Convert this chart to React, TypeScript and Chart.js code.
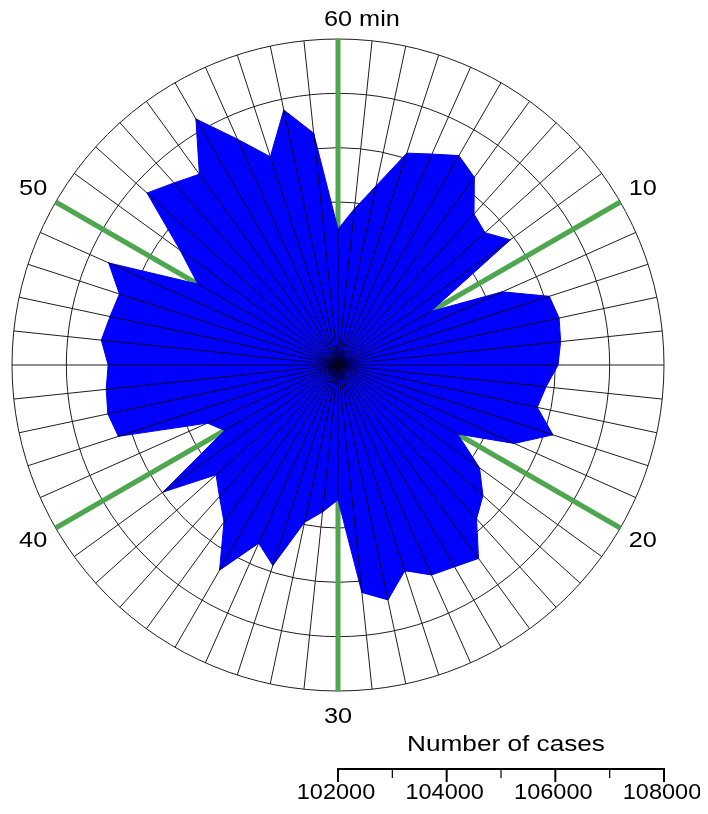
import React, { useEffect, useRef } from "react";
import { Chart, registerables } from "chart.js";

Chart.register(...registerables);

// Minute categories (spoke 0 at top = 60 min, clockwise)
const minuteLabels = [
  "60", "1", "2", "3", "4", "5", "6", "7", "8", "9",
  "10", "11", "12", "13", "14", "15", "16", "17", "18", "19",
  "20", "21", "22", "23", "24", "25", "26", "27", "28", "29",
  "30", "31", "32", "33", "34", "35", "36", "37", "38", "39",
  "40", "41", "42", "43", "44", "45", "46", "47", "48", "49",
  "50", "51", "52", "53", "54", "55", "56", "57", "58", "59",
];

// Number of cases per minute
const caseCounts = [
  104500, 104890, 105370, 106100, 106250, 106450, 106270, 105740, 105640, 105920,
  103970, 105310, 106090, 106160, 106120, 106050, 105850, 105750, 106160, 105550,
  104540, 105220, 105590, 105810, 106400, 106290, 106230, 105980, 106420, 106210,
  104480, 104720, 104960, 105880, 105590, 106360, 105570, 105260, 105020, 105980,
  104410, 104630, 106250, 106330, 106290, 106230, 106380, 106290, 106230, 106620,
  104980, 105590, 106730, 106510, 106340, 107230, 106550, 106030, 106800, 106290,
];

const radialMin = 102000;
const radialMax = 108000;
const radialStep = 1000;

// Highlighted spokes and their labels
const markIndices = [0, 10, 20, 30, 40, 50];
const markTexts = ["60 min", "10", "20", "30", "40", "50"];

// Scale bar
const barTitle = "Number of cases";
const barMajorTicks = [102000, 104000, 106000, 108000];
const barMinorTicks = [103000, 105000, 107000];

const FONT = "'Liberation Sans', Arial, Helvetica, sans-serif";

function drawStretched(
  ctx: CanvasRenderingContext2D,
  text: string,
  x: number,
  y: number,
  sx: number,
  align: CanvasTextAlign,
  size: number
) {
  ctx.save();
  ctx.font = `${size}px ${FONT}`;
  ctx.translate(x, y);
  ctx.scale(sx, 1);
  ctx.textAlign = align;
  ctx.textBaseline = "middle";
  ctx.fillStyle = "#000";
  ctx.fillText(text, 0, 0);
  ctx.restore();
}

const overlayPlugin = {
  id: "overlayPlugin",
  beforeDatasetsDraw(chart: any) {
    const scale = chart.scales.r;
    const ctx: CanvasRenderingContext2D = chart.ctx;
    ctx.save();
    ctx.strokeStyle = "#4ea64e";
    ctx.lineWidth = 5;
    ctx.lineCap = "butt";
    markIndices.forEach((i) => {
      const a = scale.getPointPositionForValue(i, radialMin);
      const b = scale.getPointPositionForValue(i, radialMax);
      ctx.beginPath();
      ctx.moveTo(a.x, a.y);
      ctx.lineTo(b.x, b.y);
      ctx.stroke();
    });
    ctx.restore();
  },
  afterDatasetsDraw(chart: any) {
    const scale = chart.scales.r;
    const ctx: CanvasRenderingContext2D = chart.ctx;
    const data = chart.data.datasets[0].data as number[];
    ctx.save();
    ctx.strokeStyle = "rgba(0,0,30,0.95)";
    ctx.lineWidth = 1;
    data.forEach((v, i) => {
      const p = scale.getPointPositionForValue(i, v);
      ctx.beginPath();
      ctx.moveTo(scale.xCenter, scale.yCenter);
      ctx.lineTo(p.x, p.y);
      ctx.stroke();
    });
    ctx.restore();
  },
  afterDraw(chart: any) {
    const scale = chart.scales.r;
    const ctx: CanvasRenderingContext2D = chart.ctx;
    const outer = scale.getDistanceFromCenterForValue(radialMax);

    // Angular labels
    markIndices.forEach((idx, k) => {
      const text = markTexts[k];
      const dist = idx === 0 ? outer + 19 : outer + 26;
      const p = scale.getPointPosition(idx, dist);
      if (idx === 0) {
        ctx.save();
        ctx.font = `22px ${FONT}`;
        const w = ctx.measureText("60").width * 1.15;
        ctx.restore();
        drawStretched(ctx, text, p.x - w / 2, p.y, 1.15, "left", 22);
      } else {
        drawStretched(ctx, text, p.x, p.y, 1.15, "center", 22);
      }
    });

    // Scale bar
    const cx = scale.xCenter;
    const cy = scale.yCenter;
    const lineY = cy + 404;
    const x0 = cx + scale.getDistanceFromCenterForValue(barMajorTicks[0]);
    const x1 = cx + scale.getDistanceFromCenterForValue(barMajorTicks[barMajorTicks.length - 1]);
    ctx.save();
    ctx.strokeStyle = "#000";
    ctx.lineWidth = 2;
    ctx.beginPath();
    ctx.moveTo(x0, lineY);
    ctx.lineTo(x1, lineY);
    ctx.stroke();
    barMajorTicks.forEach((v) => {
      const x = cx + scale.getDistanceFromCenterForValue(v);
      ctx.beginPath();
      ctx.moveTo(x, lineY - 1);
      ctx.lineTo(x, lineY + 13);
      ctx.stroke();
    });
    ctx.lineWidth = 1.2;
    barMinorTicks.forEach((v) => {
      const x = cx + scale.getDistanceFromCenterForValue(v);
      ctx.beginPath();
      ctx.moveTo(x, lineY);
      ctx.lineTo(x, lineY + 9);
      ctx.stroke();
    });
    ctx.restore();
    barMajorTicks.forEach((v) => {
      const x = cx + scale.getDistanceFromCenterForValue(v) - 2;
      drawStretched(ctx, String(v), x, cy + 428, 1.07, "center", 22);
    });
    drawStretched(ctx, barTitle, (x0 + x1) / 2 + 5, cy + 380, 1.19, "center", 22);
  },
};

export default function App() {
  const canvasRef = useRef<HTMLCanvasElement | null>(null);

  useEffect(() => {
    const canvas = canvasRef.current;
    if (!canvas) return;
    const chart = new Chart(canvas, {
      type: "radar",
      data: {
        labels: minuteLabels,
        datasets: [
          {
            data: caseCounts,
            backgroundColor: "#0000ff",
            borderColor: "#0000f0",
            borderWidth: 1,
            pointRadius: 0,
            pointHoverRadius: 0,
            fill: "start",
            tension: 0,
          },
        ],
      },
      options: {
        responsive: false,
        animation: false,
        devicePixelRatio: 1,
        layout: { padding: { left: 4, top: 31, right: 36, bottom: 115 } },
        plugins: {
          legend: { display: false },
          tooltip: { enabled: false },
        },
        scales: {
          r: {
            min: radialMin,
            max: radialMax,
            startAngle: 0,
            ticks: { display: false, stepSize: radialStep },
            grid: { circular: true, color: "#1e1e1e", lineWidth: 1 },
            angleLines: { display: true, color: "#1e1e1e", lineWidth: 1 },
            pointLabels: { display: false },
          },
        },
      },
      plugins: [overlayPlugin],
    } as any);
    return () => chart.destroy();
  }, []);

  return (
    <div style={{ width: 692, height: 798, background: "#fff" }}>
      <canvas ref={canvasRef} width={692} height={798} style={{ display: "block" }} />
    </div>
  );
}
